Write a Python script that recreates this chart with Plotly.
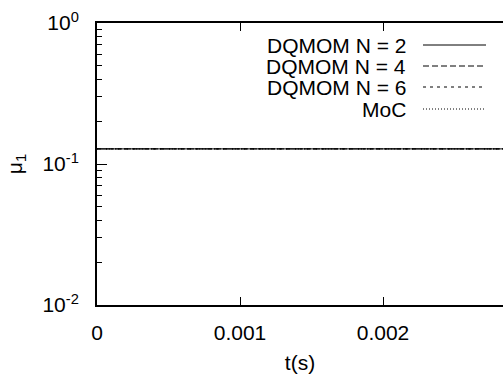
import plotly.graph_objects as go

# Data
t = [0.0, 0.0005, 0.001, 0.0015, 0.002, 0.0025, 0.003]
mu1_dqmom2 = [0.128, 0.128, 0.128, 0.128, 0.128, 0.128, 0.128]
mu1_dqmom4 = [0.128, 0.128, 0.128, 0.128, 0.128, 0.128, 0.128]
mu1_dqmom6 = [0.128, 0.128, 0.128, 0.128, 0.128, 0.128, 0.128]
mu1_moc = [0.128, 0.128, 0.128, 0.128, 0.128, 0.128, 0.128]
series_names = ["DQMOM N = 2", "DQMOM N = 4", "DQMOM N = 6", "MoC"]
x_tick_vals = [0, 0.001, 0.002]
x_tick_text = ["0", "0.001", "0.002"]
y_tick_vals = [0.01, 0.1, 1]
y_tick_text = ["10<sup>-2</sup>", "10<sup>-1</sup>", "10<sup>0</sup>"]
y_minor_vals = [0.02, 0.03, 0.04, 0.05, 0.06, 0.07, 0.08, 0.09,
                0.2, 0.3, 0.4, 0.5, 0.6, 0.7, 0.8, 0.9]

dashes = ["solid", "6px,3px", "3px,4px", "1px,2px"]
series = [mu1_dqmom2, mu1_dqmom4, mu1_dqmom6, mu1_moc]

FONT = "Liberation Sans, Arial, Helvetica, sans-serif"
FS = 21
W, H = 503, 376
L, R, T, B = 97, 0, 23, 71
pw, ph = W - L - R, H - T - B

fig = go.Figure()
for name, ys, d in zip(series_names, series, dashes):
    fig.add_trace(go.Scatter(x=t, y=ys, mode="lines", name=name,
                             line=dict(color="black", width=1, dash=d),
                             showlegend=False))

# gnuplot-style key: text right-aligned, sample on the right
def px2x(px):
    return (px - L) / pw

def py2y(py):
    return 1 - (py - T) / ph

rows_y = [45, 66, 87, 109]
for name, d, ry in zip(series_names, dashes, rows_y):
    fig.add_annotation(x=px2x(408), y=py2y(ry), xref="paper", yref="paper",
                       text=name, showarrow=False, xanchor="right",
                       yanchor="middle", font=dict(family=FONT, size=FS, color="black"))
    fig.add_shape(type="line", xref="paper", yref="paper",
                  x0=px2x(423), x1=px2x(486), y0=py2y(ry), y1=py2y(ry),
                  line=dict(color="black", width=1, dash=d))

fig.update_layout(
    width=W, height=H,
    margin=dict(l=L, r=R, t=T, b=B),
    plot_bgcolor="white", paper_bgcolor="white",
    font=dict(family=FONT, size=FS, color="black"),
    xaxis=dict(range=[0, (W - L) / 143 * 0.001], tickvals=x_tick_vals, ticktext=x_tick_text,
               ticks="inside", ticklen=8, tickwidth=1, tickcolor="black",
               showline=True, linewidth=2, linecolor="black", mirror="ticks",
               showgrid=False, zeroline=False,
               ticklabelstandoff=8,
               title=dict(text="t(s)", standoff=12, font=dict(size=FS))),
    yaxis=dict(type="log", range=[-2, 0], tickvals=y_tick_vals, ticktext=y_tick_text,
               ticks="inside", ticklen=10, tickwidth=1, tickcolor="black",
               showline=True, linewidth=2, linecolor="black", mirror=False,
               showgrid=False, zeroline=False,
               ticklabelstandoff=12,
               minor=dict(tickvals=y_minor_vals, ticks="inside", ticklen=5,
                          tickwidth=1, tickcolor="black", showgrid=False),
               title=dict(text="μ<sub>1</sub>", standoff=14, font=dict(size=FS))),
)

fig.write_html("out.html")
